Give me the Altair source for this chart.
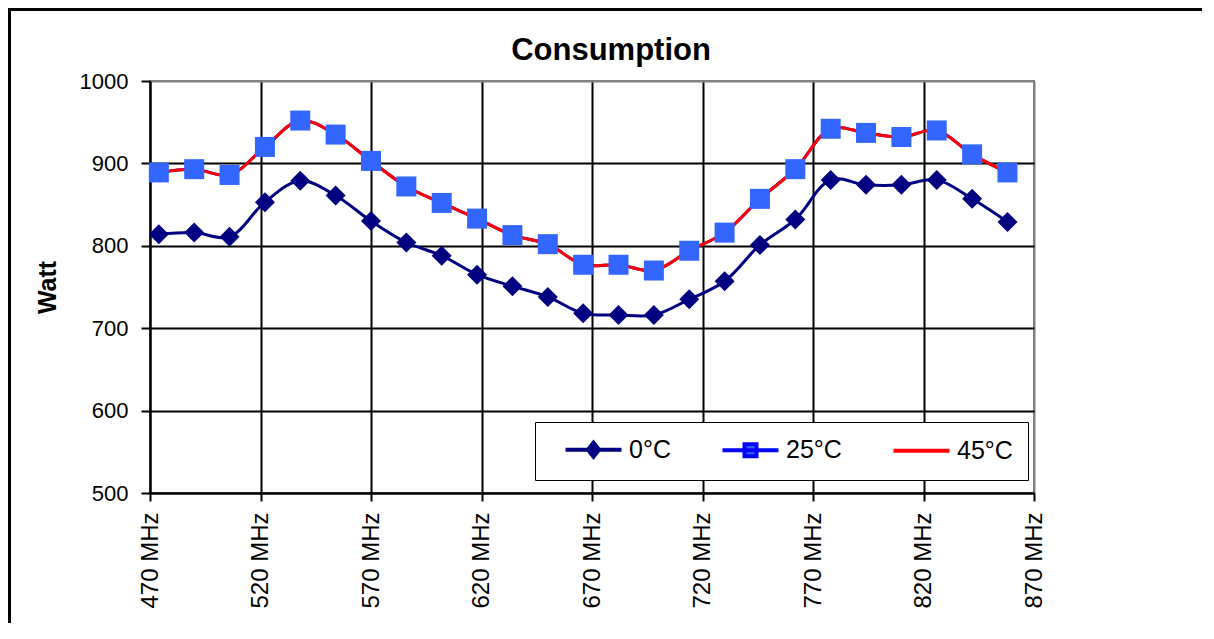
import altair as alt
import pandas as pd

FONT = "Liberation Sans"

# ---- data ----
freqs = [474, 490, 506, 522, 538, 554, 570, 586, 602, 618, 634, 650, 666,
         682, 698, 714, 730, 746, 762, 778, 794, 810, 826, 842, 858]
temps = ["0°C", "25°C", "45°C"]
watt_0 = [814, 816, 811, 853, 879, 861, 830, 804, 788, 765, 751, 738, 718,
          716, 716, 735, 757, 801, 832, 880, 874, 874, 880, 857, 829]
watt_25 = [889, 893, 886, 920, 952, 935, 903, 872, 852, 833, 813, 802, 777,
           777, 770, 794, 816, 857, 893, 942, 937, 932, 940, 911, 889]
watt_45 = [889, 893, 886, 920, 952, 935, 903, 872, 852, 833, 813, 802, 777,
           777, 770, 794, 816, 857, 893, 942, 937, 932, 940, 911, 889]
x_ticks = [470, 520, 570, 620, 670, 720, 770, 820, 870]
y_ticks = [500, 600, 700, 800, 900, 1000]

line_colors = ["#000080", "#0000FF", "#FF0000"]
marker_colors = ["#000080", "#3366FF"]

rows = []
for t, vals in zip(temps, [watt_0, watt_25, watt_45]):
    for f, v in zip(freqs, vals):
        rows.append({"freq": f, "watt": v, "series": t})
df = pd.DataFrame(rows)

x_enc = alt.X(
    "freq:Q",
    scale=alt.Scale(domain=[470, 870], nice=False, zero=False),
    axis=alt.Axis(
        values=x_ticks, labelExpr="datum.value + ' MHz'", labelAngle=270,
        labelFontSize=24, labelFont=FONT, labelColor="black", labelPadding=11,
        labelFlush=False, labelOverlap=False, tickSize=8, tickWidth=2,
        tickColor="black", domainColor="black", domainWidth=2,
        gridColor={"condition": {"test": "datum.value == 870", "value": "#808080"}, "value": "black"},
        gridWidth=2, title=None,
    ),
)
y_enc = alt.Y(
    "watt:Q",
    scale=alt.Scale(domain=[500, 1000], nice=False, zero=False),
    axis=alt.Axis(
        values=y_ticks, format="d", labelFontSize=22, labelFont=FONT, labelColor="black",
        labelPadding=13, labelFlush=False, labelOverlap=False, tickSize=9,
        tickWidth=2, tickColor="black", domainColor="black", domainWidth=2,
        gridColor={"condition": {"test": "datum.value == 1000", "value": "#808080"}, "value": "black"},
        gridWidth=2, title="Watt", titleFont=FONT, titleFontSize=25,
        titleFontWeight="bold", titleColor="black", titleAngle=270,
        titleX=-103, titleY=206, titleAlign="center", titleBaseline="middle",
    ),
)

# legend symbols: a line with the series marker on it (path units x10 px)
P0 = "M-2.8,0L2.8,0M-0.55,0L0,-0.7L0.55,0L0,0.7Z"
P25 = "M-2.8,0L2.8,0M-0.6,-0.6L0.6,-0.6L0.6,0.6L-0.6,0.6Z"
P45 = "M-2.8,0L2.8,0"

shape_expr = (f"datum.value === '0°C' ? '{P0}' : "
              f"(datum.value === '25°C' ? '{P25}' : '{P45}')")
fill_expr = ("datum.value === '0°C' ? '#000080' : "
             "(datum.value === '25°C' ? '#3366FF' : '#FF0000')")

legend = alt.Legend(
    title=None, orient="none", legendX=385, legendY=341, direction="horizontal",
    strokeColor="black", fillColor="white", padding=15, symbolSize=400,
    symbolStrokeWidth=4, symbolOffset=31, labelOffset=23, columnPadding=36,
    labelFontSize=25, labelFont=FONT, labelColor="black", symbolOpacity=1,
    symbolType=alt.ExprRef(expr=shape_expr),
    symbolFillColor=alt.ExprRef(expr=fill_expr),
)

lines = alt.Chart(df).mark_line(interpolate="catmull-rom", strokeWidth=3).encode(
    x=x_enc, y=y_enc,
    color=alt.Color("series:N", scale=alt.Scale(domain=temps, range=line_colors), legend=legend),
)

points = alt.Chart(df).transform_filter("datum.series != '45°C'").mark_point(
    filled=True, size=400, opacity=1, strokeWidth=0
).encode(
    x=x_enc, y=y_enc,
    fill=alt.Fill("series:N", scale=alt.Scale(domain=temps[:2], range=marker_colors), legend=None),
    shape=alt.Shape("series:N", scale=alt.Scale(domain=temps[:2], range=["diamond", "square"]), legend=None),
)

frame_df = pd.DataFrame({"k": [0]})
frame_top = alt.Chart(frame_df).mark_rule(color="black", strokeWidth=3).encode(
    x=alt.value(-142), x2=alt.value(1064), y=alt.value(-71.5)
)
frame_left = alt.Chart(frame_df).mark_rule(color="black", strokeWidth=3).encode(
    x=alt.value(-140.5), y=alt.value(-73), y2=alt.value(560)
)

chart = alt.layer(lines, points, frame_top, frame_left).properties(
    width=884, height=412,
    padding={"left": 142, "top": 73, "right": 168, "bottom": 130},
    autosize=alt.AutoSizeParams(type="none"),
    title=alt.TitleParams(
        text="Consumption", fontSize=31, fontWeight="bold", font=FONT,
        color="black", anchor="middle", frame="bounds", baseline="alphabetic",
        offset=-84,
    ),
).configure_view(stroke="#808080", strokeWidth=2)

chart.save("out.html", embed_options={"renderer": "svg", "actions": False})
